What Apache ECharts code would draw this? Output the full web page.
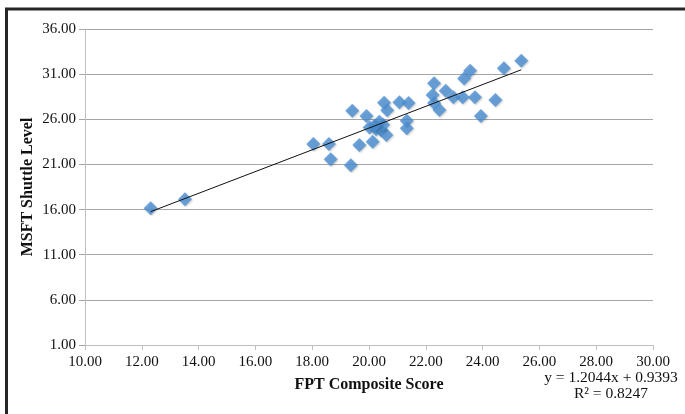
<!DOCTYPE html>
<html>
<head>
<meta charset="utf-8">
<script src="https://cdn.jsdelivr.net/npm/echarts@6/dist/echarts.min.js"></script>
<style>
html,body{margin:0;padding:0;background:#fff;}
#c{width:685px;height:414px;}
</style>
</head>
<body>
<div id="c"></div>
<script>
// FPT Composite Score (x) and MSFT Shuttle Level (y)
const fptScore = [12.31, 13.52, 18.04, 18.59, 18.65, 19.36, 19.41, 19.66, 19.91, 20.02,
  20.13, 20.36, 20.42, 20.25, 20.53, 20.64, 20.61, 21.07, 21.39, 21.33,
  21.33, 22.29, 22.24, 22.29, 22.48, 22.70, 22.97, 23.30, 23.35, 23.56,
  23.73, 23.94, 24.45, 24.75, 25.36, 20.50, 20.20];
const msftLevel = [16.14, 17.13, 23.26, 23.26, 21.56, 20.90, 26.95, 23.15, 26.36, 25.10,
  23.50, 25.73, 24.80, 24.90, 27.83, 27.00, 24.25, 27.90, 27.80, 25.84,
  25.00, 29.98, 28.68, 27.80, 27.02, 29.16, 28.43, 28.43, 30.53, 31.38,
  28.43, 26.36, 28.13, 31.64, 32.48, 25.40, 25.30];
const xTicks = [10, 12, 14, 16, 18, 20, 22, 24, 26, 28, 30];
const yTicks = [1, 6, 11, 16, 21, 26, 31, 36];
const trendSlope = 1.2044;
const trendIntercept = 0.9393;
const rSquared = 0.8247;

// y axis starts at 1 with step 5: the axis is drawn on (value - yBase)
const yBase = yTicks[0];
const yStep = yTicks[1] - yTicks[0];

const points = fptScore.map((x, i) => [x, msftLevel[i] - yBase]);
const xMin = Math.min(...fptScore), xMax = Math.max(...fptScore);
const trend = [xMin, xMax].map(x => [x, trendSlope * x + trendIntercept - yBase]);

const serif = '"Liberation Serif", "Times New Roman", serif';
const chart = echarts.init(document.getElementById('c'), null, {renderer: 'canvas'});
chart.setOption({
  animation: false,
  backgroundColor: '#fff',
  grid: {left: 85, right: 32, top: 29, bottom: 69, containLabel: false},
  xAxis: {
    type: 'value',
    min: xTicks[0], max: xTicks[xTicks.length - 1], interval: xTicks[1] - xTicks[0],
    name: 'FPT Composite Score', nameLocation: 'middle', nameGap: 32,
    nameTextStyle: {fontFamily: serif, fontWeight: 'bold', fontSize: 16, color: '#111'},
    axisLine: {show: true, lineStyle: {color: '#bfbfbf', width: 1}},
    axisTick: {show: true, length: 5, lineStyle: {color: '#bfbfbf'}},
    axisLabel: {fontFamily: serif, fontSize: 15, color: '#111', margin: 10,
      formatter: v => v.toFixed(2)},
    splitLine: {show: false}
  },
  yAxis: {
    type: 'value',
    min: 0, max: yTicks[yTicks.length - 1] - yBase, interval: yStep,
    name: 'MSFT Shuttle Level', nameLocation: 'middle', nameGap: 49, nameMoveOverlap: false,
    nameTextStyle: {fontFamily: serif, fontWeight: 'bold', fontSize: 16, color: '#111'},
    axisLine: {show: true, lineStyle: {color: '#bfbfbf', width: 1}},
    axisTick: {show: true, length: 6, lineStyle: {color: '#a6a6a6'}},
    axisLabel: {fontFamily: serif, fontSize: 15, color: '#111', margin: 9,
      formatter: v => (v + yBase).toFixed(2)},
    splitLine: {show: true, lineStyle: {color: '#a6a6a6', width: 1}}
  },
  series: [
    {
      type: 'scatter', data: points, symbol: 'diamond', symbolSize: 14,
      itemStyle: {color: '#4a8ed3', shadowBlur: 2, shadowColor: 'rgba(0,0,0,0.25)', shadowOffsetX: 1, shadowOffsetY: 1},
      z: 2
    },
    {
      type: 'line', data: trend, showSymbol: false, symbol: 'none',
      lineStyle: {color: '#111', width: 1}, z: 3, silent: true
    }
  ],
  graphic: [
    {type: 'rect', shape: {x: 6.5, y: 9, width: 700, height: 420},
      style: {fill: 'none', stroke: '#262626', lineWidth: 3}, silent: true},
    {type: 'text', x: 611, y: 370, style: {
      text: 'y = ' + trendSlope.toFixed(4) + 'x + ' + trendIntercept.toFixed(4) + '\nR² = ' + rSquared.toFixed(4),
      fontFamily: serif, fontSize: 15.5, fill: '#111', align: 'center', verticalAlign: 'top', lineHeight: 16}}
  ]
});
</script>
</body>
</html>
